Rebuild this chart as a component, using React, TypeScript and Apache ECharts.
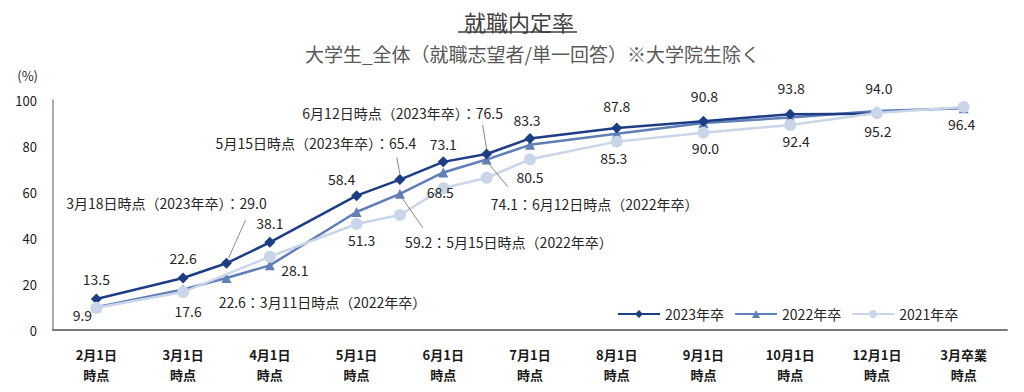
import React, { useEffect, useRef } from 'react';
import * as echarts from 'echarts';

// ---- data ----
const axisSlots = ['2月1日', '3月1日', '4月1日', '5月1日', '6月1日', '7月1日', '8月1日', '9月1日', '10月1日', '12月1日', '3月卒業'];
const axisSuffix = '時点';
// intermediate survey dates sit between two axis slots
const midSlots: Record<string, number> = { '3月11日': 1.5, '3月18日': 1.5, '5月15日': 3.5, '6月12日': 4.5 };

const seriesNames = ['2023年卒', '2022年卒', '2021年卒'];

const dates2023 = ['2月1日', '3月1日', '3月18日', '4月1日', '5月1日', '5月15日', '6月1日', '6月12日', '7月1日', '8月1日', '9月1日', '10月1日', '12月1日'];
const values2023 = [13.5, 22.6, 29.0, 38.1, 58.4, 65.4, 73.1, 76.5, 83.3, 87.8, 90.8, 93.8, 94.0];

const dates2022 = ['2月1日', '3月1日', '3月11日', '4月1日', '5月1日', '5月15日', '6月1日', '6月12日', '7月1日', '8月1日', '9月1日', '10月1日', '12月1日', '3月卒業'];
const values2022 = [9.9, 17.6, 22.6, 28.1, 51.3, 59.2, 68.5, 74.1, 80.5, 85.3, 90.0, 92.4, 95.2, 96.4];

const dates2021 = ['2月1日', '3月1日', '4月1日', '5月1日', '5月15日', '6月1日', '6月12日', '7月1日', '8月1日', '9月1日', '10月1日', '12月1日', '3月卒業'];
const values2021 = [9.7, 16.5, 31.9, 46.1, 50.0, 61.6, 66.2, 74.2, 81.9, 85.8, 89.1, 94.3, 97.0];

const callouts2023 = ['3月18日', '5月15日', '6月12日'];
const callouts2022 = ['3月11日', '5月15日', '6月12日'];

// ---- styles ----
const FONT = "'Noto Sans CJK JP', 'Noto Sans', sans-serif";
const C2023 = '#1d3d85';
const C2022 = '#5f7fb5';
const C2021 = '#c9d5e8';
const TEXT = '#262626';

const labelOffset2023: Record<string, [number, number]> = {
  '2月1日': [0, -20], '3月1日': [0, -20], '4月1日': [0, -19], '5月1日': [-15, -17],
  '6月1日': [0, -18], '7月1日': [-3, -18], '8月1日': [0, -22], '9月1日': [1, -25],
  '10月1日': [1, -26], '12月1日': [2, -26],
  '3月18日': [-60, -60], '5月15日': [-84, -37], '6月12日': [-84, -41],
};
const labelOffset2022: Record<string, [number, number]> = {
  '2月1日': [-14, 8], '3月1日': [5, 21], '4月1日': [25, 5], '5月1日': [5, 28],
  '6月1日': [-3, 20], '7月1日': [0, 32], '8月1日': [-3, 24], '9月1日': [2, 25],
  '10月1日': [6, 24], '12月1日': [1, 20], '3月卒業': [-2, 16],
  '3月11日': [96, 24], '5月15日': [109, 48], '6月12日': [108, 44],
};
const leader2023: Record<string, [number, number, number, number]> = {
  '3月18日': [2, -5, 19, -43], '5月15日': [0, -5, -3, -22], '6月12日': [0, -5, -4, -29],
};
const leader2022: Record<string, [number, number, number, number]> = {
  '5月15日': [2, 4, 23, 34], '6月12日': [2, 4, 21, 27],
};

const slotOf = (d: string) => {
  const i = axisSlots.indexOf(d);
  return i >= 0 ? i : midSlots[d];
};

function buildData(dates: string[], values: number[], kind: '2023' | '2022' | '2021', withLabels: boolean) {
  return dates.map((d, i) => {
    const v = values[i];
    const item: any = { value: [slotOf(d), v] };
    if (!withLabels || kind === '2021') return item;
    const offs = kind === '2023' ? labelOffset2023 : labelOffset2022;
    const isCallout = (kind === '2023' ? callouts2023 : callouts2022).includes(d);
    const txt = isCallout
      ? kind === '2023'
        ? `${d}時点（2023年卒）：${v.toFixed(1)}`
        : `${v.toFixed(1)}：${d}時点（2022年卒）`
      : v.toFixed(1);
    item.label = {
      show: true,
      position: 'inside',
      offset: offs[d] || [0, 0],
      formatter: txt,
      color: TEXT,
      fontSize: 14,
      fontFamily: FONT,
    };
    return item;
  });
}

export default function App() {
  const ref = useRef<HTMLDivElement>(null);
  useEffect(() => {
    if (!ref.current) return;
    const chart = echarts.init(ref.current, undefined, { renderer: 'svg' });
    const option: any = {
      animation: false,
      backgroundColor: '#ffffff',
      textStyle: { fontFamily: FONT },
      title: [
        {
          text: '就職内定率',
          left: 459,
          top: 5,
          textStyle: { fontSize: 22, fontWeight: 'normal', color: '#404040', fontFamily: FONT },
        },
        {
          text: '大学生_全体（就職志望者/単一回答）※大学院生除く',
          left: 300,
          top: 39,
          textStyle: { fontSize: 19, fontWeight: 'normal', color: '#595959', fontFamily: FONT },
        },
      ],
      legend: {
        data: seriesNames,
        left: 612,
        top: 302,
        itemWidth: 42,
        itemHeight: 10,
        itemGap: 10,
        textStyle: { fontSize: 14, color: TEXT, fontFamily: FONT },
      },
      grid: { left: 53, right: 17, top: 100, bottom: 62, containLabel: false },
      xAxis: [
        {
          type: 'category',
          data: axisSlots.map((s) => `${s}\n${axisSuffix}`),
          boundaryGap: true,
          axisLine: { show: true, onZero: false, lineStyle: { color: '#7a7a7a', width: 2 } },
          axisTick: { show: false },
          splitLine: { show: false },
          axisLabel: {
            color: '#1a1a1a',
            fontSize: 13,
            fontWeight: 'bold',
            lineHeight: 20,
            margin: 14,
            fontFamily: FONT,
          },
        },
        {
          type: 'value',
          min: -0.5,
          max: 10.5,
          show: false,
        },
      ],
      yAxis: {
        type: 'value',
        min: 0,
        max: 100,
        interval: 20,
        name: '(%)',
        nameLocation: 'end',
        nameGap: 18,
        nameTextStyle: { align: 'right', padding: [0, 15, 0, 0], fontSize: 13, color: TEXT, fontFamily: FONT },
        axisLine: { show: true, onZero: false, lineStyle: { color: '#8c8c8c', width: 1.5 } },
        axisTick: { show: false },
        splitLine: { show: false },
        axisLabel: { color: '#1a1a1a', fontSize: 13, margin: 16, fontFamily: FONT },
      },
      series: [
        {
          name: '2022年卒',
          type: 'line',
          xAxisIndex: 1,
          z: 2,
          symbol: 'triangle',
          symbolSize: 10,
          color: C2022,
          lineStyle: { color: C2022, width: 2.5 },
          itemStyle: { color: C2022 },
          data: buildData(dates2022, values2022, '2022', false),
        },
        {
          name: '2023年卒',
          type: 'line',
          xAxisIndex: 1,
          z: 3,
          symbol: 'diamond',
          symbolSize: 11,
          color: C2023,
          lineStyle: { color: C2023, width: 2.5 },
          itemStyle: { color: C2023 },
          data: buildData(dates2023, values2023, '2023', true),
        },
        {
          name: '2021年卒',
          type: 'line',
          xAxisIndex: 1,
          z: 4,
          symbol: 'circle',
          symbolSize: 12,
          color: C2021,
          lineStyle: { color: C2021, width: 2.5 },
          itemStyle: { color: C2021 },
          data: buildData(dates2021, values2021, '2021', false),
        },
        {
          // labels of 2022年卒, drawn above every line
          name: '2022年卒 labels',
          type: 'line',
          xAxisIndex: 1,
          z: 6,
          symbol: 'circle',
          symbolSize: 1,
          silent: true,
          lineStyle: { width: 0, color: 'transparent' },
          itemStyle: { color: 'transparent' },
          data: buildData(dates2022, values2022, '2022', true),
        },
      ],
    };
    chart.setOption(option);

    // leader lines for callout labels and title underline
    const graphics: any[] = [];
    const addLeaders = (dates: string[], values: number[], leaders: Record<string, number[]>) => {
      Object.keys(leaders).forEach((d) => {
        const idx = dates.indexOf(d);
        if (idx < 0) return;
        const p = chart.convertToPixel({ xAxisIndex: 1, yAxisIndex: 0 } as any, [slotOf(d), values[idx]]) as number[];
        const l = leaders[d];
        graphics.push({
          type: 'line',
          z: 10,
          shape: { x1: p[0] + l[0], y1: p[1] + l[1], x2: p[0] + l[2], y2: p[1] + l[3] },
          style: { stroke: '#8a8a8a', lineWidth: 1 },
        });
      });
    };
    addLeaders(dates2023, values2023, leader2023);
    addLeaders(dates2022, values2022, leader2022);
    graphics.push({
      type: 'line',
      shape: { x1: 458, y1: 32, x2: 577, y2: 32 },
      style: { stroke: '#404040', lineWidth: 1.5 },
    });
    chart.setOption({ graphic: graphics });

    return () => chart.dispose();
  }, []);
  return (
    <div
      ref={ref}
      style={{ position: 'fixed', left: 0, top: 0, width: 1024, height: 392, background: '#fff' }}
    />
  );
}
